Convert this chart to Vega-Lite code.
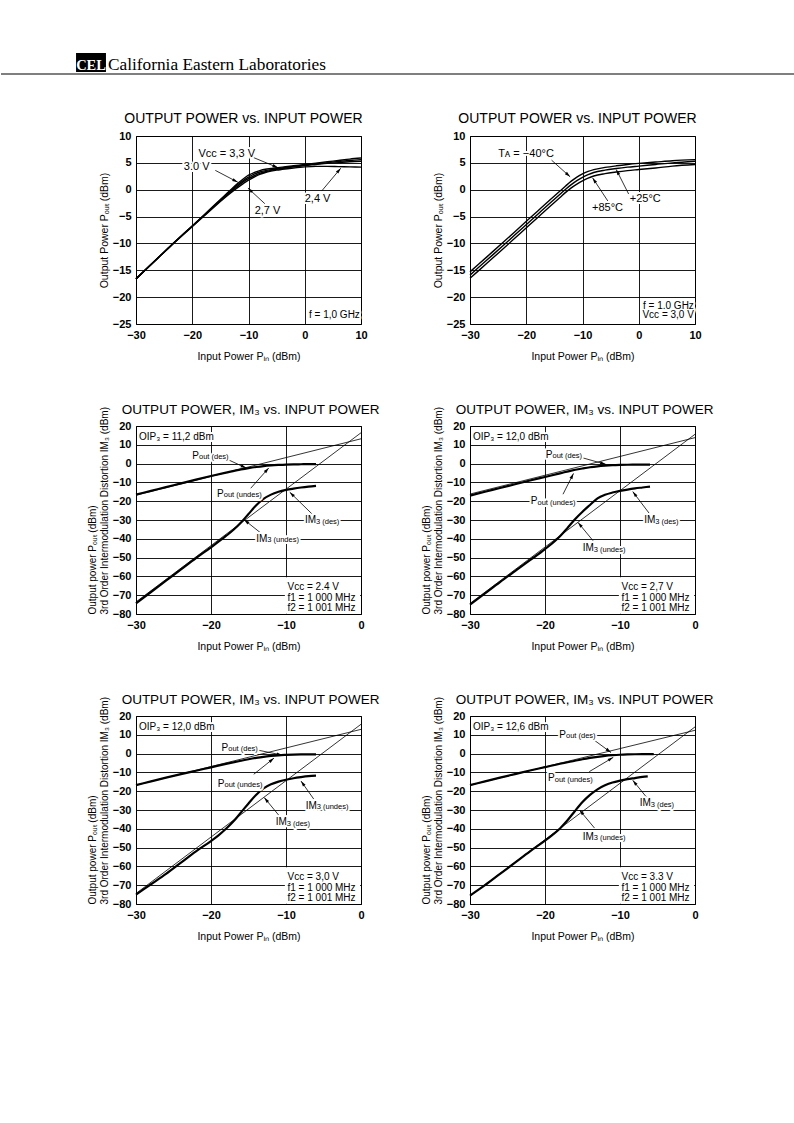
{
"$schema": "https://vega.github.io/schema/vega-lite/v6.json",
"padding": {"left": 0, "top": 53, "right": 0, "bottom": 10},
"spacing": 36,
"config": {
 "font": "Liberation Sans",
 "view": {"stroke": "black", "strokeWidth": 1},
 "axis": {"grid": true, "gridColor": "black", "gridOpacity": 1, "gridWidth": 0.9, "domain": false, "ticks": false, "labelColor": "black", "labelFont": "Liberation Sans", "labelFontSize": 11, "labelFontWeight": "bold", "labelPadding": 5, "labelOverlap": false, "labelFlush": false, "labelBound": false, "titleColor": "black", "titleFont": "Liberation Sans", "titleFontWeight": "normal", "titleFontSize": 10.5},
 "axisX": {"titlePadding": 11},
 "axisY": {"titlePadding": 2.5},
 "title": {"font": "Liberation Sans", "fontSize": 14, "fontWeight": "normal", "color": "black", "offset": 4, "frame": "group"},
 "text": {"font": "Liberation Sans"}
},
"datasets": {
 "c1_curves": [
  {"s":"3.3","x":-30,"y":-16.6},{"s":"3.3","x":-27,"y":-13.6},{"s":"3.3","x":-24,"y":-10.6},{"s":"3.3","x":-21,"y":-7.7},{"s":"3.3","x":-18,"y":-4.8},{"s":"3.3","x":-16,"y":-2.8},{"s":"3.3","x":-14,"y":-0.85},{"s":"3.3","x":-13,"y":0.15},{"s":"3.3","x":-12,"y":1.1},{"s":"3.3","x":-11,"y":1.95},{"s":"3.3","x":-10,"y":2.7},{"s":"3.3","x":-9,"y":3.2},{"s":"3.3","x":-8,"y":3.55},{"s":"3.3","x":-7,"y":3.8},{"s":"3.3","x":-6,"y":3.95},{"s":"3.3","x":-5,"y":4.1},{"s":"3.3","x":-4,"y":4.2},{"s":"3.3","x":-2,"y":4.45},{"s":"3.3","x":0,"y":4.7},{"s":"3.3","x":2,"y":4.95},{"s":"3.3","x":4,"y":5.2},{"s":"3.3","x":6,"y":5.45},{"s":"3.3","x":8,"y":5.7},{"s":"3.3","x":10,"y":5.9},
  {"s":"3.0","x":-30,"y":-16.6},{"s":"3.0","x":-27,"y":-13.6},{"s":"3.0","x":-24,"y":-10.6},{"s":"3.0","x":-21,"y":-7.7},{"s":"3.0","x":-18,"y":-4.85},{"s":"3.0","x":-16,"y":-2.9},{"s":"3.0","x":-14,"y":-1.0},{"s":"3.0","x":-13,"y":-0.05},{"s":"3.0","x":-12,"y":0.85},{"s":"3.0","x":-11,"y":1.65},{"s":"3.0","x":-10,"y":2.35},{"s":"3.0","x":-9,"y":2.9},{"s":"3.0","x":-8,"y":3.3},{"s":"3.0","x":-7,"y":3.55},{"s":"3.0","x":-6,"y":3.75},{"s":"3.0","x":-5,"y":3.9},{"s":"3.0","x":-4,"y":4.05},{"s":"3.0","x":-2,"y":4.35},{"s":"3.0","x":0,"y":4.6},{"s":"3.0","x":2,"y":4.85},{"s":"3.0","x":4,"y":5.05},{"s":"3.0","x":6,"y":5.25},{"s":"3.0","x":8,"y":5.45},{"s":"3.0","x":10,"y":5.6},
  {"s":"2.7","x":-30,"y":-16.6},{"s":"2.7","x":-27,"y":-13.6},{"s":"2.7","x":-24,"y":-10.6},{"s":"2.7","x":-21,"y":-7.75},{"s":"2.7","x":-18,"y":-4.9},{"s":"2.7","x":-16,"y":-3.0},{"s":"2.7","x":-14,"y":-1.15},{"s":"2.7","x":-13,"y":-0.25},{"s":"2.7","x":-12,"y":0.6},{"s":"2.7","x":-11,"y":1.4},{"s":"2.7","x":-10,"y":2.05},{"s":"2.7","x":-9,"y":2.6},{"s":"2.7","x":-8,"y":3.05},{"s":"2.7","x":-7,"y":3.35},{"s":"2.7","x":-6,"y":3.6},{"s":"2.7","x":-5,"y":3.8},{"s":"2.7","x":-4,"y":3.95},{"s":"2.7","x":-2,"y":4.25},{"s":"2.7","x":0,"y":4.5},{"s":"2.7","x":2,"y":4.7},{"s":"2.7","x":4,"y":4.9},{"s":"2.7","x":6,"y":5.05},{"s":"2.7","x":8,"y":5.2},{"s":"2.7","x":10,"y":5.3},
  {"s":"2.4","x":-30,"y":-16.6},{"s":"2.4","x":-27,"y":-13.6},{"s":"2.4","x":-24,"y":-10.65},{"s":"2.4","x":-21,"y":-7.8},{"s":"2.4","x":-18,"y":-5.0},{"s":"2.4","x":-16,"y":-3.1},{"s":"2.4","x":-14,"y":-1.3},{"s":"2.4","x":-13,"y":-0.45},{"s":"2.4","x":-12,"y":0.35},{"s":"2.4","x":-11,"y":1.1},{"s":"2.4","x":-10,"y":1.8},{"s":"2.4","x":-9,"y":2.35},{"s":"2.4","x":-8,"y":2.85},{"s":"2.4","x":-7,"y":3.2},{"s":"2.4","x":-6,"y":3.45},{"s":"2.4","x":-5,"y":3.65},{"s":"2.4","x":-4,"y":3.8},{"s":"2.4","x":-2,"y":4.05},{"s":"2.4","x":0,"y":4.25},{"s":"2.4","x":2,"y":4.35},{"s":"2.4","x":4,"y":4.35},{"s":"2.4","x":6,"y":4.3},{"s":"2.4","x":8,"y":4.25},{"s":"2.4","x":10,"y":4.2}
 ],
 "c1_L": [{"x":-18.9,"y":6.7,"t":"Vᴄᴄ = 3,3 V"},{"x":-21.5,"y":4.2,"t":"3.0 V"},{"x":-8.9,"y":-4.0,"t":"2,7 V"},{"x":0.0,"y":-1.7,"t":"2,4 V"}],
 "c1_R": [{"x":9.8,"y":-23.3,"t":"f = 1,0 GHz"}],
 "c1_arrows": [{"x":-4.75,"y":4.1,"x2":-9.6,"y2":6.2},{"x":-11.9,"y":1.4,"x2":-15.9,"y2":3.6},{"x":-10.1,"y":0.3,"x2":-7.1,"y2":-2.6},{"x":6.4,"y":4.0,"x2":3.0,"y2":-0.25}],
 "c2_curves": [
  {"s":"-40","x":-30,"y":-15.3},{"s":"-40","x":-27,"y":-12.5},{"s":"-40","x":-24,"y":-9.7},{"s":"-40","x":-21,"y":-6.85},{"s":"-40","x":-18,"y":-4.0},{"s":"-40","x":-16,"y":-2.1},{"s":"-40","x":-14,"y":-0.25},{"s":"-40","x":-13,"y":0.7},{"s":"-40","x":-12,"y":1.6},{"s":"-40","x":-11,"y":2.35},{"s":"-40","x":-10,"y":2.95},{"s":"-40","x":-9,"y":3.4},{"s":"-40","x":-8,"y":3.75},{"s":"-40","x":-6,"y":4.15},{"s":"-40","x":-4,"y":4.45},{"s":"-40","x":-2,"y":4.7},{"s":"-40","x":0,"y":4.9},{"s":"-40","x":3,"y":5.15},{"s":"-40","x":6,"y":5.4},{"s":"-40","x":10,"y":5.6},
  {"s":"25","x":-30,"y":-15.9},{"s":"25","x":-27,"y":-13.1},{"s":"25","x":-24,"y":-10.3},{"s":"25","x":-21,"y":-7.45},{"s":"25","x":-18,"y":-4.6},{"s":"25","x":-16,"y":-2.7},{"s":"25","x":-14,"y":-0.85},{"s":"25","x":-13,"y":0.1},{"s":"25","x":-12,"y":0.95},{"s":"25","x":-11,"y":1.7},{"s":"25","x":-10,"y":2.3},{"s":"25","x":-9,"y":2.8},{"s":"25","x":-8,"y":3.2},{"s":"25","x":-6,"y":3.65},{"s":"25","x":-4,"y":3.95},{"s":"25","x":-2,"y":4.2},{"s":"25","x":0,"y":4.4},{"s":"25","x":3,"y":4.7},{"s":"25","x":6,"y":5.0},{"s":"25","x":10,"y":5.3},
  {"s":"85","x":-30,"y":-16.5},{"s":"85","x":-27,"y":-13.7},{"s":"85","x":-24,"y":-10.9},{"s":"85","x":-21,"y":-8.05},{"s":"85","x":-18,"y":-5.2},{"s":"85","x":-16,"y":-3.3},{"s":"85","x":-14,"y":-1.45},{"s":"85","x":-13,"y":-0.5},{"s":"85","x":-12,"y":0.35},{"s":"85","x":-11,"y":1.05},{"s":"85","x":-10,"y":1.65},{"s":"85","x":-9,"y":2.15},{"s":"85","x":-8,"y":2.55},{"s":"85","x":-6,"y":3.0},{"s":"85","x":-4,"y":3.3},{"s":"85","x":-2,"y":3.55},{"s":"85","x":0,"y":3.75},{"s":"85","x":3,"y":4.05},{"s":"85","x":6,"y":4.4},{"s":"85","x":10,"y":4.7}
 ],
 "c2_L": [{"x":-25,"y":6.7,"t":"Tᴀ = −40°C"},{"x":-1.6,"y":-1.75,"t":"+25°C"},{"x":-8.3,"y":-3.4,"t":"+85°C"}],
 "c2_R": [{"x":9.8,"y":-21.7,"t":"f = 1.0 GHz"},{"x":9.8,"y":-23.4,"t":"Vᴄᴄ = 3,0 V"}],
 "c2_arrows": [{"x":-12.2,"y":2.4,"x2":-15.5,"y2":5.5},{"x":-4.0,"y":3.75,"x2":-1.8,"y2":-0.8},{"x":-8.2,"y":2.2,"x2":-5.5,"y2":-2.1}],
 "box": [{"x":-10.15,"x2":-0.12,"y":-79.88,"y2":-60.4}],
 "c3_thick": [
  {"s":"p","x":-30,"y":-16.5},{"s":"p","x":-28,"y":-14.5},{"s":"p","x":-26,"y":-12.5},{"s":"p","x":-24,"y":-10.5},{"s":"p","x":-22,"y":-8.5},{"s":"p","x":-20,"y":-6.6},{"s":"p","x":-18,"y":-4.8},{"s":"p","x":-16,"y":-3.1},{"s":"p","x":-15,"y":-2.4},{"s":"p","x":-14,"y":-1.8},{"s":"p","x":-13,"y":-1.3},{"s":"p","x":-12,"y":-0.95},{"s":"p","x":-11,"y":-0.7},{"s":"p","x":-10,"y":-0.5},{"s":"p","x":-9,"y":-0.4},{"s":"p","x":-8,"y":-0.35},{"s":"p","x":-7,"y":-0.3},{"s":"p","x":-6,"y":-0.3},
  {"s":"i","x":-30,"y":-74.3},{"s":"i","x":-28,"y":-68.3},{"s":"i","x":-26,"y":-62.3},{"s":"i","x":-24,"y":-56.3},{"s":"i","x":-22,"y":-50.3},{"s":"i","x":-20,"y":-44.5},{"s":"i","x":-18,"y":-38.5},{"s":"i","x":-17,"y":-35.2},{"s":"i","x":-16,"y":-31.3},{"s":"i","x":-15,"y":-26.8},{"s":"i","x":-14,"y":-22.3},{"s":"i","x":-13,"y":-18.8},{"s":"i","x":-12,"y":-16.5},{"s":"i","x":-11,"y":-15},{"s":"i","x":-10,"y":-14},{"s":"i","x":-9,"y":-13.3},{"s":"i","x":-8,"y":-12.7},{"s":"i","x":-7,"y":-12.2},{"s":"i","x":-6,"y":-11.8}
 ],
 "c3_thin": [{"s":"p","x":-30,"y":-16.8},{"s":"p","x":0,"y":13.2},{"s":"i","x":-30,"y":-73.6},{"s":"i","x":0,"y":16.4}],
 "c3_L": [{"x":-29.6,"y":14.2,"t":"OIP₃ = 11,2 dBm"},{"x":-9.8,"y":-65.8,"t":"Vᴄᴄ = 2.4 V"},{"x":-9.8,"y":-71.5,"t":"f1 = 1 000 MHz"},{"x":-9.8,"y":-76.8,"t":"f2 = 1 001 MHz"}],
 "c3_TP": [{"x":-21.6,"y":4.1,"m":"P","u":"out (des)"},{"x":-18.3,"y":-16,"m":"P","u":"out (undes)"},{"x":-6.0,"y":-30,"m":"IM","u":"3 (des)"},{"x":-12.5,"y":-40,"m":"IM","u":"3 (undes)"}],
 "c3_arrows": [{"x":-15.3,"y":-2.4,"x2":-18.1,"y2":2.8},{"x":-12.3,"y":-2.3,"x2":-14.7,"y2":-13.1},{"x":-9.5,"y":-15.2,"x2":-6.5,"y2":-26.9},{"x":-15.6,"y":-29.8,"x2":-12.9,"y2":-38.4}],
 "c4_thick": [
  {"s":"p","x":-30,"y":-17},{"s":"p","x":-28,"y":-15},{"s":"p","x":-26,"y":-13},{"s":"p","x":-24,"y":-11},{"s":"p","x":-22,"y":-9},{"s":"p","x":-20,"y":-7.1},{"s":"p","x":-18,"y":-5.2},{"s":"p","x":-16.5,"y":-3.7},{"s":"p","x":-15,"y":-2.6},{"s":"p","x":-14,"y":-1.95},{"s":"p","x":-13,"y":-1.45},{"s":"p","x":-12,"y":-1.1},{"s":"p","x":-11,"y":-0.85},{"s":"p","x":-10,"y":-0.7},{"s":"p","x":-9,"y":-0.6},{"s":"p","x":-8,"y":-0.55},{"s":"p","x":-7,"y":-0.5},{"s":"p","x":-6,"y":-0.5},
  {"s":"i","x":-30,"y":-75},{"s":"i","x":-28,"y":-69},{"s":"i","x":-26,"y":-63},{"s":"i","x":-24,"y":-57.2},{"s":"i","x":-22,"y":-51.4},{"s":"i","x":-20,"y":-45.5},{"s":"i","x":-18,"y":-38.6},{"s":"i","x":-17,"y":-34.2},{"s":"i","x":-16,"y":-29.6},{"s":"i","x":-15,"y":-25.6},{"s":"i","x":-14,"y":-22},{"s":"i","x":-13,"y":-18.5},{"s":"i","x":-12,"y":-16.6},{"s":"i","x":-11,"y":-15.4},{"s":"i","x":-10,"y":-14.5},{"s":"i","x":-9,"y":-13.8},{"s":"i","x":-8,"y":-13.2},{"s":"i","x":-7,"y":-12.7},{"s":"i","x":-6,"y":-12.2}
 ],
 "c4_thin": [{"s":"p","x":-30,"y":-16.2},{"s":"p","x":0,"y":13.8},{"s":"i","x":-30,"y":-74.4},{"s":"i","x":0,"y":15.6}],
 "c4_L": [{"x":-29.6,"y":14.2,"t":"OIP₃ = 12,0 dBm"},{"x":-9.8,"y":-65.8,"t":"Vᴄᴄ = 2,7 V"},{"x":-9.8,"y":-71.5,"t":"f1 = 1 000 MHz"},{"x":-9.8,"y":-76.8,"t":"f2 = 1 001 MHz"}],
 "c4_TP": [{"x":-19.0,"y":4.6,"m":"P","u":"out (des)"},{"x":-21.0,"y":-20,"m":"P","u":"out (undes)"},{"x":-5.3,"y":-30,"m":"IM","u":"3 (des)"},{"x":-13.5,"y":-45.1,"m":"IM","u":"3 (undes)"}],
 "c4_arrows": [{"x":-11.9,"y":-0.4,"x2":-15.1,"y2":3.2},{"x":-16.2,"y":-5.2,"x2":-17.6,"y2":-16.3},{"x":-8.3,"y":-14.9,"x2":-6.0,"y2":-27},{"x":-15.6,"y":-31.3,"x2":-13.6,"y2":-41}],
 "c5_thick": [
  {"s":"p","x":-30,"y":-16.8},{"s":"p","x":-28,"y":-14.8},{"s":"p","x":-26,"y":-12.8},{"s":"p","x":-24,"y":-10.9},{"s":"p","x":-22,"y":-9.1},{"s":"p","x":-20,"y":-7.3},{"s":"p","x":-18,"y":-5.5},{"s":"p","x":-16,"y":-3.8},{"s":"p","x":-15,"y":-3.0},{"s":"p","x":-14,"y":-2.3},{"s":"p","x":-13,"y":-1.7},{"s":"p","x":-12,"y":-1.25},{"s":"p","x":-11,"y":-0.9},{"s":"p","x":-10,"y":-0.7},{"s":"p","x":-9,"y":-0.55},{"s":"p","x":-8,"y":-0.45},{"s":"p","x":-7,"y":-0.4},{"s":"p","x":-6,"y":-0.4},
  {"s":"i","x":-30,"y":-75},{"s":"i","x":-28,"y":-69.5},{"s":"i","x":-26,"y":-64},{"s":"i","x":-24,"y":-58},{"s":"i","x":-22,"y":-52},{"s":"i","x":-20,"y":-46.5},{"s":"i","x":-19,"y":-43.5},{"s":"i","x":-18,"y":-40},{"s":"i","x":-17,"y":-36},{"s":"i","x":-16,"y":-31.3},{"s":"i","x":-15,"y":-26.5},{"s":"i","x":-14,"y":-22},{"s":"i","x":-13,"y":-18.5},{"s":"i","x":-12,"y":-16.3},{"s":"i","x":-11,"y":-14.9},{"s":"i","x":-10,"y":-13.9},{"s":"i","x":-9,"y":-13.1},{"s":"i","x":-8,"y":-12.5},{"s":"i","x":-7,"y":-12},{"s":"i","x":-6,"y":-11.7}
 ],
 "c5_thin": [{"s":"p","x":-30,"y":-16.8},{"s":"p","x":0,"y":12.9},{"s":"i","x":-30,"y":-74.4},{"s":"i","x":0,"y":15.6}],
 "c5_L": [{"x":-29.6,"y":14.2,"t":"OIP₃ = 12,0 dBm"},{"x":-9.8,"y":-65.8,"t":"Vᴄᴄ = 3,0 V"},{"x":-9.8,"y":-71.5,"t":"f1 = 1 000 MHz"},{"x":-9.8,"y":-76.8,"t":"f2 = 1 001 MHz"}],
 "c5_TP": [{"x":-17.7,"y":3.2,"m":"P","u":"out (des)"},{"x":-18.2,"y":-16,"m":"P","u":"out (undes)"},{"x":-5.9,"y":-27.8,"m":"IM","u":"3 (undes)"},{"x":-9.9,"y":-36.6,"m":"IM","u":"3 (des)"}],
 "c5_arrows": [{"x":-10.5,"y":-0.8,"x2":-14.3,"y2":2.3},{"x":-11.6,"y":-2.4,"x2":-14.3,"y2":-11},{"x":-8.0,"y":-14.6,"x2":-6.3,"y2":-24.2},{"x":-12.9,"y":-23.4,"x2":-10.9,"y2":-33.1}],
 "c6_thick": [
  {"s":"p","x":-30,"y":-16.8},{"s":"p","x":-28,"y":-14.8},{"s":"p","x":-26,"y":-12.8},{"s":"p","x":-24,"y":-10.9},{"s":"p","x":-22,"y":-9.0},{"s":"p","x":-20,"y":-7.2},{"s":"p","x":-18,"y":-5.4},{"s":"p","x":-16,"y":-3.8},{"s":"p","x":-15,"y":-3.0},{"s":"p","x":-14,"y":-2.3},{"s":"p","x":-13,"y":-1.7},{"s":"p","x":-12,"y":-1.2},{"s":"p","x":-11,"y":-0.85},{"s":"p","x":-10,"y":-0.6},{"s":"p","x":-9,"y":-0.45},{"s":"p","x":-8,"y":-0.35},{"s":"p","x":-7,"y":-0.3},{"s":"p","x":-5.5,"y":-0.3},
  {"s":"i","x":-30,"y":-75.5},{"s":"i","x":-28,"y":-70},{"s":"i","x":-26,"y":-64},{"s":"i","x":-24,"y":-58},{"s":"i","x":-22,"y":-52},{"s":"i","x":-20,"y":-46.3},{"s":"i","x":-19,"y":-43.2},{"s":"i","x":-18,"y":-39.8},{"s":"i","x":-17,"y":-35.5},{"s":"i","x":-16,"y":-30.5},{"s":"i","x":-15,"y":-25.8},{"s":"i","x":-14,"y":-22},{"s":"i","x":-13,"y":-19},{"s":"i","x":-12,"y":-16.9},{"s":"i","x":-11,"y":-15.4},{"s":"i","x":-10,"y":-14.4},{"s":"i","x":-9,"y":-13.6},{"s":"i","x":-8,"y":-13},{"s":"i","x":-7,"y":-12.4},{"s":"i","x":-6.3,"y":-12.1}
 ],
 "c6_thin": [{"s":"p","x":-30,"y":-16.8},{"s":"p","x":0,"y":12.4},{"s":"i","x":-30,"y":-75.8},{"s":"i","x":0,"y":14.2}],
 "c6_L": [{"x":-29.6,"y":14.2,"t":"OIP₃ = 12,6 dBm"},{"x":-9.8,"y":-65.8,"t":"Vᴄᴄ = 3.3 V"},{"x":-9.8,"y":-71.5,"t":"f1 = 1 000 MHz"},{"x":-9.8,"y":-76.8,"t":"f2 = 1 001 MHz"}],
 "c6_TP": [{"x":-17.2,"y":9.9,"m":"P","u":"out (des)"},{"x":-18.7,"y":-13.1,"m":"P","u":"out (undes)"},{"x":-5.9,"y":-26.5,"m":"IM","u":"3 (des)"},{"x":-13.5,"y":-44.2,"m":"IM","u":"3 (undes)"}],
 "c6_arrows": [{"x":-11.2,"y":0.6,"x2":-13.8,"y2":8.2},{"x":-10.9,"y":-2.0,"x2":-14.1,"y2":-9.6},{"x":-8.3,"y":-14.2,"x2":-6.5,"y2":-23},{"x":-15.4,"y":-30,"x2":-13.4,"y2":-39.6}]
},
"vconcat": [
 {
  "width": 659, "height": 21,
  "view": {"stroke": null},
  "data": {"values": [{"logo": "CEL", "name": "California Eastern Laboratories"}]},
  "layer": [
   {"mark": {"type": "rule", "color": "black", "strokeWidth": 1.2},
    "encoding": {"x": {"datum": 0, "type": "quantitative", "scale": {"domain": [0, 1], "range": [-135, 659]}, "axis": null}, "x2": {"datum": 1},
                 "y": {"datum": 1, "type": "quantitative", "scale": {"domain": [0, 1], "range": [0, 21]}, "axis": null}}},
   {"mark": {"type": "rect", "color": "black"},
    "encoding": {"x": {"datum": 0.0945, "type": "quantitative", "scale": {"domain": [0, 1], "range": [-135, 659]}, "axis": null}, "x2": {"datum": 0.1322},
                 "y": {"datum": 0, "type": "quantitative", "scale": {"domain": [0, 1], "range": [0, 21]}, "axis": null}, "y2": {"datum": 0.905}}},
   {"mark": {"type": "text", "align": "center", "baseline": "alphabetic", "font": "Liberation Serif", "fontWeight": "bold", "fontSize": 14.5, "fill": "white"},
    "encoding": {"x": {"datum": 0.1134, "type": "quantitative", "scale": {"domain": [0, 1], "range": [-135, 659]}, "axis": null},
                 "y": {"datum": 0.8, "type": "quantitative", "scale": {"domain": [0, 1], "range": [0, 21]}, "axis": null}, "text": {"field": "logo"}}},
   {"mark": {"type": "text", "align": "left", "baseline": "alphabetic", "font": "Liberation Serif", "fontSize": 17.3, "fill": "black"},
    "encoding": {"x": {"datum": 0.1348, "type": "quantitative", "scale": {"domain": [0, 1], "range": [-135, 659]}, "axis": null},
                 "y": {"datum": 0.81, "type": "quantitative", "scale": {"domain": [0, 1], "range": [0, 21]}, "axis": null}, "text": {"field": "name"}}}
  ]
 },
 {
  "concat": [
   {
    "width": 225, "height": 188,
    "title": {"text": "OUTPUT POWER vs. INPUT POWER", "dx": -5},
    "encoding": {
     "x": {"field": "x", "type": "quantitative", "scale": {"domain": [-30, 10], "nice": false, "zero": false}, "axis": {"values": [-30, -20, -10, 0, 10], "title": "Input Power  Pᵢₙ (dBm)"}},
     "y": {"field": "y", "type": "quantitative", "scale": {"domain": [-25, 10], "nice": false, "zero": false}, "axis": {"values": [-25, -20, -15, -10, -5, 0, 5, 10], "title": "Output Power  Pₒᵤₜ (dBm)"}}
    },
    "layer": [
     {"data": {"name": "c1_curves"}, "mark": {"type": "line", "color": "black", "strokeWidth": 1.4, "interpolate": "monotone"}, "encoding": {"detail": {"field": "s"}}},
     {"data": {"name": "c1_arrows"}, "mark": {"type": "rule", "color": "black", "strokeWidth": 0.8}, "encoding": {"x2": {"field": "x2"}, "y2": {"field": "y2"}}},
     {"data": {"name": "c1_arrows"}, "transform": [{"calculate": "atan2((datum.x-datum.x2)*5.625,(datum.y-datum.y2)*5.371)*180/PI", "as": "ang"}],
      "mark": {"type": "point", "shape": "M0,0L0.45,1.6L-0.45,1.6Z", "filled": true, "color": "black", "opacity": 1, "size": 50},
      "encoding": {"angle": {"field": "ang", "type": "quantitative", "scale": null}}},
     {"data": {"name": "c1_L"}, "mark": {"type": "text", "align": "left", "baseline": "middle", "fontSize": 11, "fill": "white", "stroke": "white", "strokeWidth": 4, "strokeJoin": "round"}, "encoding": {"text": {"field": "t"}}},
     {"data": {"name": "c1_L"}, "mark": {"type": "text", "align": "left", "baseline": "middle", "fontSize": 11, "fill": "black"}, "encoding": {"text": {"field": "t"}}},
     {"data": {"name": "c1_R"}, "mark": {"type": "text", "align": "right", "baseline": "middle", "fontSize": 10, "fill": "white", "stroke": "white", "strokeWidth": 4, "strokeJoin": "round"}, "encoding": {"text": {"field": "t"}}},
     {"data": {"name": "c1_R"}, "mark": {"type": "text", "align": "right", "baseline": "middle", "fontSize": 10, "fill": "black"}, "encoding": {"text": {"field": "t"}}}
    ]
   },
   {
    "width": 225, "height": 188,
    "title": {"text": "OUTPUT POWER vs. INPUT POWER", "dx": -5},
    "encoding": {
     "x": {"field": "x", "type": "quantitative", "scale": {"domain": [-30, 10], "nice": false, "zero": false}, "axis": {"values": [-30, -20, -10, 0, 10], "title": "Input Power  Pᵢₙ (dBm)"}},
     "y": {"field": "y", "type": "quantitative", "scale": {"domain": [-25, 10], "nice": false, "zero": false}, "axis": {"values": [-25, -20, -15, -10, -5, 0, 5, 10], "title": "Output Power  Pₒᵤₜ (dBm)"}}
    },
    "layer": [
     {"data": {"name": "c2_curves"}, "mark": {"type": "line", "color": "black", "strokeWidth": 1.4, "interpolate": "monotone"}, "encoding": {"detail": {"field": "s"}}},
     {"data": {"name": "c2_arrows"}, "mark": {"type": "rule", "color": "black", "strokeWidth": 0.8}, "encoding": {"x2": {"field": "x2"}, "y2": {"field": "y2"}}},
     {"data": {"name": "c2_arrows"}, "transform": [{"calculate": "atan2((datum.x-datum.x2)*5.625,(datum.y-datum.y2)*5.371)*180/PI", "as": "ang"}],
      "mark": {"type": "point", "shape": "M0,0L0.45,1.6L-0.45,1.6Z", "filled": true, "color": "black", "opacity": 1, "size": 50},
      "encoding": {"angle": {"field": "ang", "type": "quantitative", "scale": null}}},
     {"data": {"name": "c2_L"}, "mark": {"type": "text", "align": "left", "baseline": "middle", "fontSize": 11, "fill": "white", "stroke": "white", "strokeWidth": 4, "strokeJoin": "round"}, "encoding": {"text": {"field": "t"}}},
     {"data": {"name": "c2_L"}, "mark": {"type": "text", "align": "left", "baseline": "middle", "fontSize": 11, "fill": "black"}, "encoding": {"text": {"field": "t"}}},
     {"data": {"name": "c2_R"}, "mark": {"type": "text", "align": "right", "baseline": "middle", "fontSize": 10, "fill": "white", "stroke": "white", "strokeWidth": 4, "strokeJoin": "round"}, "encoding": {"text": {"field": "t"}}},
     {"data": {"name": "c2_R"}, "mark": {"type": "text", "align": "right", "baseline": "middle", "fontSize": 10, "fill": "black"}, "encoding": {"text": {"field": "t"}}}
    ]
   },
   {
    "width": 225, "height": 188,
    "title": {"text": "OUTPUT POWER, IM₃ vs. INPUT POWER", "fontSize": 13.5, "dx": 2, "offset": -13},
    "encoding": {
     "x": {"field": "x", "type": "quantitative", "scale": {"domain": [-30, 0], "nice": false, "zero": false}, "axis": {"values": [-30, -20, -10, 0], "title": "Input Power  Pᵢₙ (dBm)"}},
     "y": {"field": "y", "type": "quantitative", "scale": {"domain": [-80, 20], "nice": false, "zero": false}, "axis": {"values": [-80, -70, -60, -50, -40, -30, -20, -10, 0, 10, 20], "title": ["Output power  Pₒᵤₜ (dBm)", "3rd Order Intermodulation Distortion  IM₃ (dBm)"], "titleAnchor": "start", "titleFontSize": 10, "titleLineHeight": 12}}
    },
    "layer": [
     {"data": {"name": "box"}, "mark": {"type": "rect", "color": "white", "opacity": 1}, "encoding": {"x2": {"field": "x2"}, "y2": {"field": "y2"}}},
     {"data": {"name": "c3_thin"}, "mark": {"type": "line", "color": "black", "strokeWidth": 0.8}, "encoding": {"detail": {"field": "s"}}},
     {"data": {"name": "c3_thick"}, "mark": {"type": "line", "color": "black", "strokeWidth": 2.2, "interpolate": "monotone"}, "encoding": {"detail": {"field": "s"}}},
     {"data": {"name": "c3_arrows"}, "mark": {"type": "rule", "color": "black", "strokeWidth": 0.8}, "encoding": {"x2": {"field": "x2"}, "y2": {"field": "y2"}}},
     {"data": {"name": "c3_arrows"}, "transform": [{"calculate": "atan2((datum.x-datum.x2)*7.5,(datum.y-datum.y2)*1.88)*180/PI", "as": "ang"}],
      "mark": {"type": "point", "shape": "M0,0L0.45,1.6L-0.45,1.6Z", "filled": true, "color": "black", "opacity": 1, "size": 50},
      "encoding": {"angle": {"field": "ang", "type": "quantitative", "scale": null}}},
     {"data": {"name": "c3_L"}, "mark": {"type": "text", "align": "left", "baseline": "middle", "fontSize": 10, "fill": "white", "stroke": "white", "strokeWidth": 4, "strokeJoin": "round"}, "encoding": {"text": {"field": "t"}}},
     {"data": {"name": "c3_L"}, "mark": {"type": "text", "align": "left", "baseline": "middle", "fontSize": 10, "fill": "black"}, "encoding": {"text": {"field": "t"}}},
     {"data": {"name": "c3_TP"}, "mark": {"type": "text", "align": "right", "baseline": "middle", "fontSize": 10, "fill": "white", "stroke": "white", "strokeWidth": 4, "strokeJoin": "round"}, "encoding": {"text": {"field": "m"}}},
     {"data": {"name": "c3_TP"}, "mark": {"type": "text", "align": "left", "baseline": "middle", "fontSize": 7.5, "dy": 1.5, "fill": "white", "stroke": "white", "strokeWidth": 4, "strokeJoin": "round"}, "encoding": {"text": {"field": "u"}}},
     {"data": {"name": "c3_TP"}, "mark": {"type": "text", "align": "right", "baseline": "middle", "fontSize": 10, "fill": "black"}, "encoding": {"text": {"field": "m"}}},
     {"data": {"name": "c3_TP"}, "mark": {"type": "text", "align": "left", "baseline": "middle", "fontSize": 7.5, "dy": 1.5, "fill": "black"}, "encoding": {"text": {"field": "u"}}}
    ]
   },
   {
    "width": 225, "height": 188,
    "title": {"text": "OUTPUT POWER, IM₃ vs. INPUT POWER", "fontSize": 13.5, "dx": 2, "offset": -13},
    "encoding": {
     "x": {"field": "x", "type": "quantitative", "scale": {"domain": [-30, 0], "nice": false, "zero": false}, "axis": {"values": [-30, -20, -10, 0], "title": "Input Power  Pᵢₙ (dBm)"}},
     "y": {"field": "y", "type": "quantitative", "scale": {"domain": [-80, 20], "nice": false, "zero": false}, "axis": {"values": [-80, -70, -60, -50, -40, -30, -20, -10, 0, 10, 20], "title": ["Output power  Pₒᵤₜ (dBm)", "3rd Order Intermodulation Distortion  IM₃ (dBm)"], "titleAnchor": "start", "titleFontSize": 10, "titleLineHeight": 12}}
    },
    "layer": [
     {"data": {"name": "box"}, "mark": {"type": "rect", "color": "white", "opacity": 1}, "encoding": {"x2": {"field": "x2"}, "y2": {"field": "y2"}}},
     {"data": {"name": "c4_thin"}, "mark": {"type": "line", "color": "black", "strokeWidth": 0.8}, "encoding": {"detail": {"field": "s"}}},
     {"data": {"name": "c4_thick"}, "mark": {"type": "line", "color": "black", "strokeWidth": 2.2, "interpolate": "monotone"}, "encoding": {"detail": {"field": "s"}}},
     {"data": {"name": "c4_arrows"}, "mark": {"type": "rule", "color": "black", "strokeWidth": 0.8}, "encoding": {"x2": {"field": "x2"}, "y2": {"field": "y2"}}},
     {"data": {"name": "c4_arrows"}, "transform": [{"calculate": "atan2((datum.x-datum.x2)*7.5,(datum.y-datum.y2)*1.88)*180/PI", "as": "ang"}],
      "mark": {"type": "point", "shape": "M0,0L0.45,1.6L-0.45,1.6Z", "filled": true, "color": "black", "opacity": 1, "size": 50},
      "encoding": {"angle": {"field": "ang", "type": "quantitative", "scale": null}}},
     {"data": {"name": "c4_L"}, "mark": {"type": "text", "align": "left", "baseline": "middle", "fontSize": 10, "fill": "white", "stroke": "white", "strokeWidth": 4, "strokeJoin": "round"}, "encoding": {"text": {"field": "t"}}},
     {"data": {"name": "c4_L"}, "mark": {"type": "text", "align": "left", "baseline": "middle", "fontSize": 10, "fill": "black"}, "encoding": {"text": {"field": "t"}}},
     {"data": {"name": "c4_TP"}, "mark": {"type": "text", "align": "right", "baseline": "middle", "fontSize": 10, "fill": "white", "stroke": "white", "strokeWidth": 4, "strokeJoin": "round"}, "encoding": {"text": {"field": "m"}}},
     {"data": {"name": "c4_TP"}, "mark": {"type": "text", "align": "left", "baseline": "middle", "fontSize": 7.5, "dy": 1.5, "fill": "white", "stroke": "white", "strokeWidth": 4, "strokeJoin": "round"}, "encoding": {"text": {"field": "u"}}},
     {"data": {"name": "c4_TP"}, "mark": {"type": "text", "align": "right", "baseline": "middle", "fontSize": 10, "fill": "black"}, "encoding": {"text": {"field": "m"}}},
     {"data": {"name": "c4_TP"}, "mark": {"type": "text", "align": "left", "baseline": "middle", "fontSize": 7.5, "dy": 1.5, "fill": "black"}, "encoding": {"text": {"field": "u"}}}
    ]
   },
   {
    "width": 225, "height": 188,
    "title": {"text": "OUTPUT POWER, IM₃ vs. INPUT POWER", "fontSize": 13.5, "dx": 2, "offset": -13},
    "encoding": {
     "x": {"field": "x", "type": "quantitative", "scale": {"domain": [-30, 0], "nice": false, "zero": false}, "axis": {"values": [-30, -20, -10, 0], "title": "Input Power  Pᵢₙ (dBm)"}},
     "y": {"field": "y", "type": "quantitative", "scale": {"domain": [-80, 20], "nice": false, "zero": false}, "axis": {"values": [-80, -70, -60, -50, -40, -30, -20, -10, 0, 10, 20], "title": ["Output power  Pₒᵤₜ (dBm)", "3rd Order Intermodulation Distortion  IM₃ (dBm)"], "titleAnchor": "start", "titleFontSize": 10, "titleLineHeight": 12}}
    },
    "layer": [
     {"data": {"name": "box"}, "mark": {"type": "rect", "color": "white", "opacity": 1}, "encoding": {"x2": {"field": "x2"}, "y2": {"field": "y2"}}},
     {"data": {"name": "c5_thin"}, "mark": {"type": "line", "color": "black", "strokeWidth": 0.8}, "encoding": {"detail": {"field": "s"}}},
     {"data": {"name": "c5_thick"}, "mark": {"type": "line", "color": "black", "strokeWidth": 2.2, "interpolate": "monotone"}, "encoding": {"detail": {"field": "s"}}},
     {"data": {"name": "c5_arrows"}, "mark": {"type": "rule", "color": "black", "strokeWidth": 0.8}, "encoding": {"x2": {"field": "x2"}, "y2": {"field": "y2"}}},
     {"data": {"name": "c5_arrows"}, "transform": [{"calculate": "atan2((datum.x-datum.x2)*7.5,(datum.y-datum.y2)*1.88)*180/PI", "as": "ang"}],
      "mark": {"type": "point", "shape": "M0,0L0.45,1.6L-0.45,1.6Z", "filled": true, "color": "black", "opacity": 1, "size": 50},
      "encoding": {"angle": {"field": "ang", "type": "quantitative", "scale": null}}},
     {"data": {"name": "c5_L"}, "mark": {"type": "text", "align": "left", "baseline": "middle", "fontSize": 10, "fill": "white", "stroke": "white", "strokeWidth": 4, "strokeJoin": "round"}, "encoding": {"text": {"field": "t"}}},
     {"data": {"name": "c5_L"}, "mark": {"type": "text", "align": "left", "baseline": "middle", "fontSize": 10, "fill": "black"}, "encoding": {"text": {"field": "t"}}},
     {"data": {"name": "c5_TP"}, "mark": {"type": "text", "align": "right", "baseline": "middle", "fontSize": 10, "fill": "white", "stroke": "white", "strokeWidth": 4, "strokeJoin": "round"}, "encoding": {"text": {"field": "m"}}},
     {"data": {"name": "c5_TP"}, "mark": {"type": "text", "align": "left", "baseline": "middle", "fontSize": 7.5, "dy": 1.5, "fill": "white", "stroke": "white", "strokeWidth": 4, "strokeJoin": "round"}, "encoding": {"text": {"field": "u"}}},
     {"data": {"name": "c5_TP"}, "mark": {"type": "text", "align": "right", "baseline": "middle", "fontSize": 10, "fill": "black"}, "encoding": {"text": {"field": "m"}}},
     {"data": {"name": "c5_TP"}, "mark": {"type": "text", "align": "left", "baseline": "middle", "fontSize": 7.5, "dy": 1.5, "fill": "black"}, "encoding": {"text": {"field": "u"}}}
    ]
   },
   {
    "width": 225, "height": 188,
    "title": {"text": "OUTPUT POWER, IM₃ vs. INPUT POWER", "fontSize": 13.5, "dx": 2, "offset": -13},
    "encoding": {
     "x": {"field": "x", "type": "quantitative", "scale": {"domain": [-30, 0], "nice": false, "zero": false}, "axis": {"values": [-30, -20, -10, 0], "title": "Input Power  Pᵢₙ (dBm)"}},
     "y": {"field": "y", "type": "quantitative", "scale": {"domain": [-80, 20], "nice": false, "zero": false}, "axis": {"values": [-80, -70, -60, -50, -40, -30, -20, -10, 0, 10, 20], "title": ["Output power  Pₒᵤₜ (dBm)", "3rd Order Intermodulation Distortion  IM₃ (dBm)"], "titleAnchor": "start", "titleFontSize": 10, "titleLineHeight": 12}}
    },
    "layer": [
     {"data": {"name": "box"}, "mark": {"type": "rect", "color": "white", "opacity": 1}, "encoding": {"x2": {"field": "x2"}, "y2": {"field": "y2"}}},
     {"data": {"name": "c6_thin"}, "mark": {"type": "line", "color": "black", "strokeWidth": 0.8}, "encoding": {"detail": {"field": "s"}}},
     {"data": {"name": "c6_thick"}, "mark": {"type": "line", "color": "black", "strokeWidth": 2.2, "interpolate": "monotone"}, "encoding": {"detail": {"field": "s"}}},
     {"data": {"name": "c6_arrows"}, "mark": {"type": "rule", "color": "black", "strokeWidth": 0.8}, "encoding": {"x2": {"field": "x2"}, "y2": {"field": "y2"}}},
     {"data": {"name": "c6_arrows"}, "transform": [{"calculate": "atan2((datum.x-datum.x2)*7.5,(datum.y-datum.y2)*1.88)*180/PI", "as": "ang"}],
      "mark": {"type": "point", "shape": "M0,0L0.45,1.6L-0.45,1.6Z", "filled": true, "color": "black", "opacity": 1, "size": 50},
      "encoding": {"angle": {"field": "ang", "type": "quantitative", "scale": null}}},
     {"data": {"name": "c6_L"}, "mark": {"type": "text", "align": "left", "baseline": "middle", "fontSize": 10, "fill": "white", "stroke": "white", "strokeWidth": 4, "strokeJoin": "round"}, "encoding": {"text": {"field": "t"}}},
     {"data": {"name": "c6_L"}, "mark": {"type": "text", "align": "left", "baseline": "middle", "fontSize": 10, "fill": "black"}, "encoding": {"text": {"field": "t"}}},
     {"data": {"name": "c6_TP"}, "mark": {"type": "text", "align": "right", "baseline": "middle", "fontSize": 10, "fill": "white", "stroke": "white", "strokeWidth": 4, "strokeJoin": "round"}, "encoding": {"text": {"field": "m"}}},
     {"data": {"name": "c6_TP"}, "mark": {"type": "text", "align": "left", "baseline": "middle", "fontSize": 7.5, "dy": 1.5, "fill": "white", "stroke": "white", "strokeWidth": 4, "strokeJoin": "round"}, "encoding": {"text": {"field": "u"}}},
     {"data": {"name": "c6_TP"}, "mark": {"type": "text", "align": "right", "baseline": "middle", "fontSize": 10, "fill": "black"}, "encoding": {"text": {"field": "m"}}},
     {"data": {"name": "c6_TP"}, "mark": {"type": "text", "align": "left", "baseline": "middle", "fontSize": 7.5, "dy": 1.5, "fill": "black"}, "encoding": {"text": {"field": "u"}}}
    ]
   }
  ],
  "columns": 2,
  "spacing": {"row": 102, "column": 109},
  "bounds": "flush"
 }
]
}
